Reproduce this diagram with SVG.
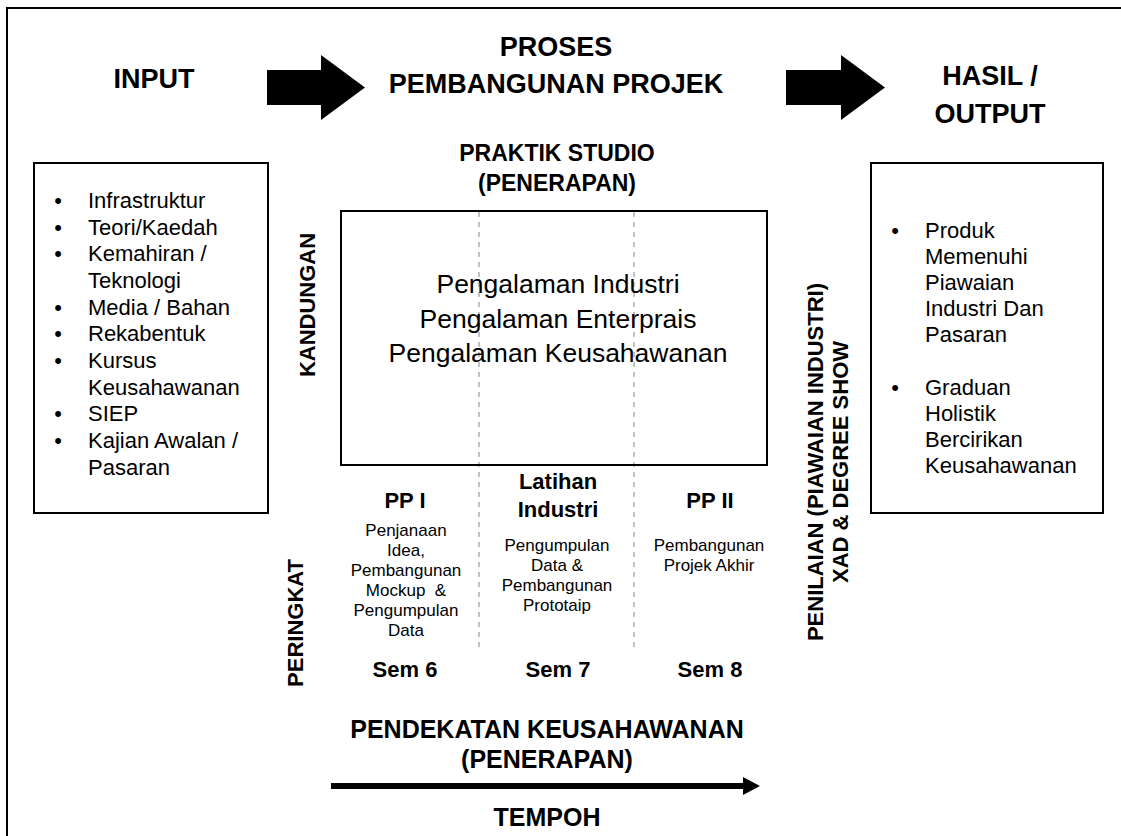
<svg xmlns="http://www.w3.org/2000/svg" width="1121" height="836" viewBox="0 0 1121 836">
<style>
text{font-family:"Liberation Sans",Arial,sans-serif;fill:#000}
.h1{font-size:27px;font-weight:bold;text-anchor:middle}
.h2{font-size:23px;font-weight:bold;text-anchor:middle}
.h3{font-size:22px;font-weight:bold;text-anchor:middle}
.hb{font-size:25px;font-weight:bold;text-anchor:middle}
.li{font-size:22px}
.bu{font-size:22px;text-anchor:middle}
.ctr{font-size:26.5px;text-anchor:middle}
.sm{font-size:17px;text-anchor:middle}
.box{fill:#fff;stroke:#000;stroke-width:2}
.dash{stroke:#999;stroke-width:1.2;stroke-dasharray:5 5;fill:none}
</style>
<rect width="1121" height="836" fill="#fff"/>
<g id="frame">
<line x1="6" y1="8" x2="1121" y2="8" stroke="#000" stroke-width="2"/>
<line x1="7" y1="7" x2="7" y2="836" stroke="#000" stroke-width="2"/>
</g>
<g id="headings">
<text class="h1" x="154" y="88">INPUT</text>
<text class="h1" x="556" y="56">PROSES</text>
<text class="h1" x="556" y="93">PEMBANGUNAN PROJEK</text>
<text class="h1" x="990" y="85">HASIL /</text>
<text class="h1" x="990" y="123">OUTPUT</text>
<text class="h2" x="557" y="161">PRAKTIK STUDIO</text>
<text class="h2" x="557" y="191">(PENERAPAN)</text>
</g>
<g id="connectors">
<polygon points="267,70 321,70 321,55 365,87.5 321,120 321,105 267,105" fill="#000"/>
<polygon points="786,70 841,70 841,55 885,87.5 841,120 841,105 786,105" fill="#000"/>
<line x1="331" y1="786" x2="746" y2="786" stroke="#000" stroke-width="6"/>
<polygon points="743,777 760,786 743,795" fill="#000"/>
<line class="dash" x1="479" y1="212" x2="479" y2="650"/>
<line class="dash" x1="634" y1="212" x2="634" y2="650"/>
</g>
<g id="input-box">
<rect class="box" x="34" y="163" width="234" height="350"/>
<text class="bu" x="58" y="208">•</text><text class="li" x="88" y="208">Infrastruktur</text>
<text class="bu" x="58" y="235">•</text><text class="li" x="88" y="235">Teori/Kaedah</text>
<text class="bu" x="58" y="261">•</text><text class="li" x="88" y="261">Kemahiran /</text>
<text class="li" x="88" y="288">Teknologi</text>
<text class="bu" x="58" y="315">•</text><text class="li" x="88" y="315">Media / Bahan</text>
<text class="bu" x="58" y="341">•</text><text class="li" x="88" y="341">Rekabentuk</text>
<text class="bu" x="58" y="368">•</text><text class="li" x="88" y="368">Kursus</text>
<text class="li" x="88" y="395">Keusahawanan</text>
<text class="bu" x="58" y="421">•</text><text class="li" x="88" y="421">SIEP</text>
<text class="bu" x="58" y="448">•</text><text class="li" x="88" y="448">Kajian Awalan /</text>
<text class="li" x="88" y="475">Pasaran</text>
</g>
<g id="main-box">
<rect x="341" y="211" width="426" height="254" fill="none" stroke="#000" stroke-width="2"/>
<text class="ctr" x="558" y="293">Pengalaman Industri</text>
<text class="ctr" x="558" y="328">Pengalaman Enterprais</text>
<text class="ctr" x="558" y="362">Pengalaman Keusahawanan</text>
</g>
<g id="output-box">
<rect class="box" x="871" y="163" width="232" height="350"/>
<text class="bu" x="895" y="238">•</text><text class="li" x="925" y="238">Produk</text>
<text class="li" x="925" y="264">Memenuhi</text>
<text class="li" x="925" y="290">Piawaian</text>
<text class="li" x="925" y="316">Industri Dan</text>
<text class="li" x="925" y="342">Pasaran</text>
<text class="bu" x="895" y="395">•</text><text class="li" x="925" y="395">Graduan</text>
<text class="li" x="925" y="421">Holistik</text>
<text class="li" x="925" y="447">Bercirikan</text>
<text class="li" x="925" y="473">Keusahawanan</text>
</g>
<g id="col-pp1">
<text class="h3" x="405" y="508">PP I</text>
<text class="sm" x="406" y="536">Penjanaan</text>
<text class="sm" x="406" y="556">Idea,</text>
<text class="sm" x="406" y="576">Pembangunan</text>
<text class="sm" x="406" y="596" xml:space="preserve">Mockup  &amp;</text>
<text class="sm" x="406" y="616">Pengumpulan</text>
<text class="sm" x="406" y="636">Data</text>
<text class="h3" x="405" y="677">Sem 6</text>
</g>
<g id="col-li">
<text class="h3" x="558" y="489">Latihan</text>
<text class="h3" x="558" y="517">Industri</text>
<text class="sm" x="557" y="551">Pengumpulan</text>
<text class="sm" x="557" y="571">Data &amp;</text>
<text class="sm" x="557" y="591">Pembangunan</text>
<text class="sm" x="557" y="611">Prototaip</text>
<text class="h3" x="558" y="677">Sem 7</text>
</g>
<g id="col-pp2">
<text class="h3" x="710" y="508">PP II</text>
<text class="sm" x="709" y="551">Pembangunan</text>
<text class="sm" x="709" y="571">Projek Akhir</text>
<text class="h3" x="710" y="677">Sem 8</text>
</g>
<g id="side-labels">
<text class="h3" transform="translate(315,305) rotate(-90)">KANDUNGAN</text>
<text class="h3" transform="translate(303,623) rotate(-90)">PERINGKAT</text>
<text class="h3" transform="translate(823,462) rotate(-90)">PENILAIAN (PIAWAIAN INDUSTRI)</text>
<text class="h3" transform="translate(848,462) rotate(-90)">XAD &amp; DEGREE SHOW</text>
</g>
<g id="time">
<text class="hb" x="547" y="738">PENDEKATAN KEUSAHAWANAN</text>
<text class="hb" x="547" y="768">(PENERAPAN)</text>
<text class="hb" x="547" y="826">TEMPOH</text>
</g>
</svg>
